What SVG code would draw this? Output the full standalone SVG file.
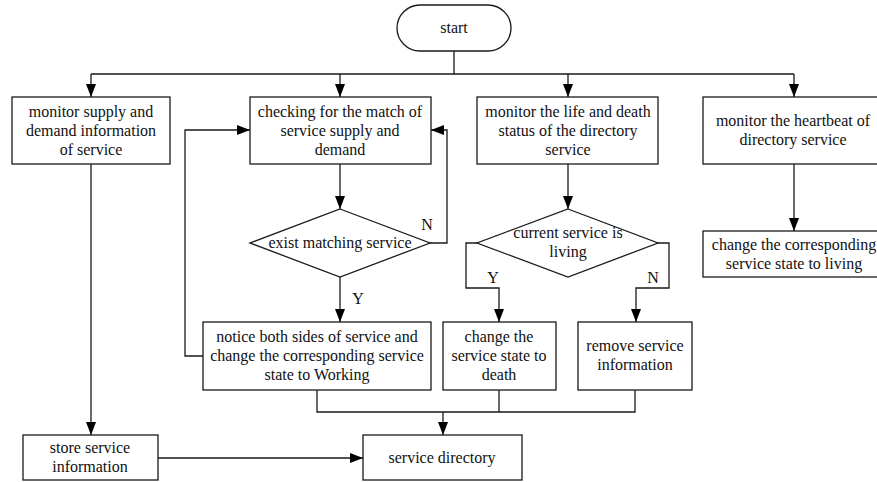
<svg xmlns="http://www.w3.org/2000/svg" width="877" height="482" viewBox="0 0 877 482">
  <defs>
    <marker id="arrow" markerWidth="13" markerHeight="10" refX="13" refY="5" orient="auto" markerUnits="userSpaceOnUse">
      <path d="M0,0 L13,5 L0,10 Z" fill="#000"/>
    </marker>
    <style>
      .box { fill: #fff; stroke: #1a1a1a; stroke-width: 1.3; }
      .line { fill: none; stroke: #1a1a1a; stroke-width: 1.3; }
      .arr { fill: none; stroke: #1a1a1a; stroke-width: 1.3; marker-end: url(#arrow); }
      text { font-family: "Liberation Serif", "Times New Roman", serif; font-size: 16px; fill: #111; text-anchor: middle; }
    </style>
  </defs>
  <rect width="877" height="482" fill="#fff"/>

  <!-- connectors -->
  <g id="connectors">
    <path class="line" d="M454,51 V74 M91,74 H794"/>
    <path class="arr" d="M91,74 V97"/>
    <path class="arr" d="M340,74 V97"/>
    <path class="arr" d="M568,74 V97"/>
    <path class="arr" d="M794,74 V97"/>
    <path class="arr" d="M91,164 V435"/>
    <path class="arr" d="M340,164 V209"/>
    <path class="arr" d="M340,277 V322"/>
    <path class="arr" d="M430,243 H447 V130 H431"/>
    <path class="arr" d="M203,356 H185 V130 H250"/>
    <path class="arr" d="M568,164 V209"/>
    <path class="arr" d="M477,243 H466 V288 H499 V322"/>
    <path class="arr" d="M658,243 H669 V288 H636 V322"/>
    <path class="arr" d="M794,164 V231"/>
    <path class="line" d="M317,390 V412 H635 V390 M499,390 V412"/>
    <path class="arr" d="M443,412 V435"/>
    <path class="arr" d="M158,458 H363"/>
    <text x="427" y="230">N</text>
    <text x="358" y="304">Y</text>
    <text x="493" y="283">Y</text>
    <text x="653" y="283">N</text>
  </g>

  <g id="start">
    <rect class="box" x="397" y="5" width="114" height="46" rx="23" ry="23"/>
    <text x="454" y="33">start</text>
  </g>

  <g id="monitor-supply">
    <rect class="box" x="12" y="97" width="158" height="67"/>
    <text x="91" y="117">monitor supply and</text>
    <text x="91" y="136">demand information</text>
    <text x="91" y="155">of service</text>
  </g>

  <g id="check-match">
    <rect class="box" x="250" y="97" width="181" height="67"/>
    <text x="340" y="117">checking for the match of</text>
    <text x="340" y="136">service supply and</text>
    <text x="340" y="155">demand</text>
  </g>

  <g id="monitor-life">
    <rect class="box" x="477" y="97" width="181" height="67"/>
    <text x="568" y="117">monitor the life and death</text>
    <text x="568" y="136">status of the directory</text>
    <text x="568" y="155">service</text>
  </g>

  <g id="monitor-heartbeat">
    <rect class="box" x="703" y="97" width="180" height="67"/>
    <text x="793" y="126">monitor the heartbeat of</text>
    <text x="793" y="145">directory service</text>
  </g>

  <g id="exist-matching">
    <polygon class="box" points="340,209 430,243 340,277 250,243"/>
    <text x="340" y="248">exist matching service</text>
  </g>

  <g id="current-living">
    <polygon class="box" points="568,209 658,243 568,277 477,243"/>
    <text x="568" y="238">current service is</text>
    <text x="568" y="257">living</text>
  </g>

  <g id="change-living">
    <rect class="box" x="703" y="231" width="180" height="46"/>
    <text x="794" y="250">change the corresponding</text>
    <text x="794" y="269">service state to living</text>
  </g>

  <g id="notice-both">
    <rect class="box" x="203" y="322" width="228" height="68"/>
    <text x="317" y="342">notice both sides of service and</text>
    <text x="317" y="361">change the corresponding service</text>
    <text x="317" y="380">state to Working</text>
  </g>

  <g id="change-death">
    <rect class="box" x="443" y="322" width="113" height="68"/>
    <text x="499" y="342">change the</text>
    <text x="499" y="361">service state to</text>
    <text x="499" y="380">death</text>
  </g>

  <g id="remove-info">
    <rect class="box" x="578" y="322" width="114" height="68"/>
    <text x="635" y="351">remove service</text>
    <text x="635" y="370">information</text>
  </g>

  <g id="store-info">
    <rect class="box" x="23" y="435" width="135" height="45"/>
    <text x="90" y="453">store service</text>
    <text x="90" y="472">information</text>
  </g>

  <g id="service-directory">
    <rect class="box" x="363" y="435" width="159" height="45"/>
    <text x="442" y="463">service directory</text>
  </g>
</svg>
